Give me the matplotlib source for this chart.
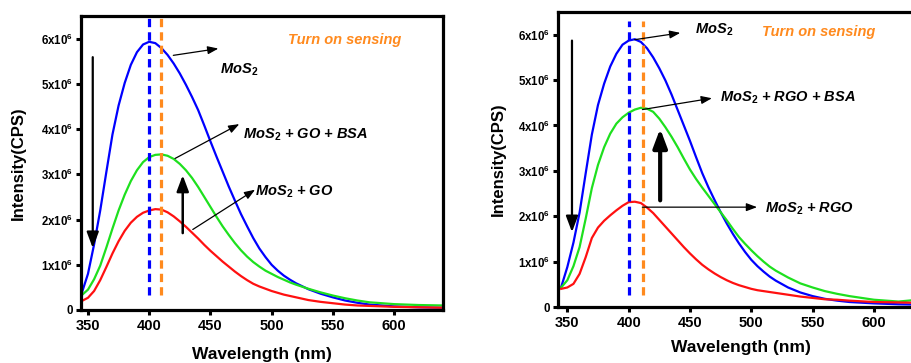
import matplotlib
matplotlib.use("Agg")
import matplotlib.pyplot as plt

plt.rcParams.update({
    "font.family": ["Liberation Sans", "DejaVu Sans"],
    "mathtext.fontset": "custom",
    "mathtext.rm": "Liberation Sans:bold",
    "mathtext.it": "Liberation Sans:italic:bold",
    "mathtext.bf": "Liberation Sans:bold",
})

# ---- wavelength grid (nm) ----
wavelength = [345, 350, 355, 360, 365, 370, 375, 380, 385, 390, 395, 400, 405, 410,
              415, 420, 425, 430, 435, 440, 445, 450, 455, 460, 465, 470, 475, 480,
              485, 490, 495, 500, 505, 510, 515, 520, 530, 540, 550, 560, 570, 580,
              600, 620, 640]

# ---- GO panel intensities (x10^6 CPS) ----
go_mos2 = [0.38, 0.80, 1.45, 2.20, 3.05, 3.88, 4.52, 5.02, 5.42, 5.70, 5.87, 5.93, 5.90, 5.79,
           5.64, 5.45, 5.23, 4.98, 4.71, 4.42, 4.08, 3.73, 3.39, 3.06, 2.73, 2.42, 2.12, 1.85,
           1.59, 1.36, 1.17, 1.00, 0.87, 0.76, 0.67, 0.59, 0.46, 0.36, 0.28, 0.21, 0.16, 0.12,
           0.08, 0.06, 0.05]
go_mos2_go_bsa = [0.33, 0.45, 0.68, 0.98, 1.38, 1.80, 2.20, 2.55, 2.85, 3.09, 3.27, 3.38, 3.43, 3.44,
                  3.41, 3.34, 3.23, 3.09, 2.92, 2.72, 2.50, 2.28, 2.06, 1.85, 1.66, 1.48, 1.32, 1.18,
                  1.06, 0.96, 0.87, 0.80, 0.73, 0.67, 0.61, 0.56, 0.47, 0.39, 0.32, 0.26, 0.21, 0.17,
                  0.13, 0.11, 0.10]
go_mos2_go = [0.20, 0.27, 0.42, 0.66, 0.95, 1.25, 1.52, 1.75, 1.93, 2.06, 2.15, 2.20, 2.23, 2.22,
              2.16, 2.07, 1.96, 1.84, 1.71, 1.58, 1.44, 1.31, 1.19, 1.07, 0.96, 0.85, 0.75, 0.66,
              0.58, 0.52, 0.47, 0.42, 0.38, 0.34, 0.31, 0.28, 0.22, 0.18, 0.15, 0.12, 0.10, 0.09,
              0.07, 0.06, 0.05]

# ---- RGO panel intensities (x10^6 CPS) ----
rgo_mos2 = [0.44, 0.88, 1.42, 2.08, 2.95, 3.80, 4.45, 4.92, 5.30, 5.58, 5.78, 5.87, 5.90, 5.84,
            5.70, 5.50, 5.26, 4.99, 4.68, 4.34, 4.00, 3.66, 3.30, 2.95, 2.64, 2.36, 2.09, 1.84,
            1.61, 1.40, 1.21, 1.04, 0.90, 0.78, 0.67, 0.58, 0.43, 0.32, 0.24, 0.18, 0.14, 0.11,
            0.08, 0.06, 0.05]
rgo_mos2_rgo_bsa = [0.43, 0.59, 0.90, 1.32, 1.95, 2.62, 3.13, 3.52, 3.82, 4.04, 4.18, 4.28, 4.35, 4.39,
                    4.37, 4.30, 4.15, 3.96, 3.75, 3.52, 3.27, 3.03, 2.82, 2.63, 2.45, 2.27, 2.09, 1.91,
                    1.72, 1.54, 1.39, 1.25, 1.12, 1.00, 0.89, 0.80, 0.65, 0.52, 0.43, 0.35, 0.29, 0.24,
                    0.16, 0.12, 0.17]
rgo_mos2_rgo = [0.40, 0.43, 0.51, 0.73, 1.10, 1.52, 1.75, 1.90, 2.02, 2.13, 2.23, 2.31, 2.32, 2.29,
                2.19, 2.07, 1.92, 1.77, 1.62, 1.47, 1.32, 1.18, 1.05, 0.93, 0.83, 0.74, 0.66, 0.59,
                0.53, 0.48, 0.44, 0.40, 0.37, 0.35, 0.33, 0.31, 0.27, 0.23, 0.20, 0.17, 0.16, 0.14,
                0.11, 0.10, 0.09]

ytick_values = [0, 1, 2, 3, 4, 5, 6]
ytick_labels = ["0"] + [f"{v}x10$^{{6}}$" for v in ytick_values[1:]]
xtick_values = [350, 400, 450, 500, 550, 600]

BLUE, GREEN, RED, ORANGE = "#0000FF", "#1EE01E", "#FF1010", "#FF8A1E"
SCALE = 1e6

fig = plt.figure(figsize=(9.12, 3.63), dpi=100)


def make_axes(rect, xlim, right_spine=True):
    ax = fig.add_axes(rect)
    ax.set_xlim(*xlim)
    ax.set_ylim(0, 6.5e6)
    for sp in ax.spines.values():
        sp.set_linewidth(2.3)
    if not right_spine:
        ax.spines["right"].set_visible(False)
    ax.set_xticks(xtick_values)
    ax.set_xticklabels([str(v) for v in xtick_values], fontsize=10.5, fontweight="bold")
    ax.set_yticks([v * SCALE for v in ytick_values])
    ax.set_yticklabels(ytick_labels, fontsize=8.3, fontweight="bold")
    ax.tick_params(axis="both", direction="out", length=3.5, width=2.2, pad=2)
    ax.tick_params(axis="x", pad=3)
    return ax


def draw_curves(ax, series):
    for vals, col in series:
        ax.plot(wavelength, [v * SCALE for v in vals], color=col, lw=1.6)


def vdash(ax, x, y0, y1, col):
    ax.plot([x, x], [y0 * SCALE, y1 * SCALE], color=col, lw=2.3,
            ls=(0, (2.6, 1.6)), solid_capstyle="butt")


def arrow(ax, start, end, lw, scale, style="-|>,head_length=0.8,head_width=0.3"):
    ax.annotate("", xy=(end[0], end[1] * SCALE), xytext=(start[0], start[1] * SCALE),
                arrowprops=dict(arrowstyle=style, lw=lw, color="black",
                                mutation_scale=scale, shrinkA=0, shrinkB=0))


def label(ax, x, y, s, **kw):
    ax.text(x, y * SCALE, s, fontsize=10.5, fontweight="bold", fontstyle="italic",
            va="center", ha="left", **kw)


# ---------------- GO panel ----------------
ax1 = make_axes([81 / 912, 1 - 310 / 363, 362 / 912, 294 / 363], (344.3, 640))
draw_curves(ax1, [(go_mos2, BLUE), (go_mos2_go_bsa, GREEN), (go_mos2_go, RED)])
vdash(ax1, 400, 0.33, 6.45, BLUE)
vdash(ax1, 410, 0.33, 6.45, ORANGE)
arrow(ax1, (353.9, 5.59), (353.9, 1.37), 1.6, 12)
arrow(ax1, (427.4, 1.70), (427.4, 2.98), 1.8, 12)
arrow(ax1, (419.7, 5.63), (456.5, 5.78), 0.9, 8)
arrow(ax1, (421.1, 3.35), (473.6, 4.11), 0.9, 8)
arrow(ax1, (435.6, 1.78), (486.5, 2.66), 0.9, 8)
label(ax1, 457.9, 5.30, r"MoS$_{2}$")
label(ax1, 476.4, 3.88, r"MoS$_{2}$ + GO + BSA")
label(ax1, 486.5, 2.62, r"MoS$_{2}$ + GO")
label(ax1, 513.4, 5.98, "Turn on sensing", color=ORANGE)
ax1.set_ylabel("Intensity(CPS)", fontsize=12, fontweight="bold", va="center")
ax1.yaxis.set_label_coords(-0.174, 0.5)
ax1.set_xlabel("Wavelength (nm)", fontsize=12.5, fontweight="bold", va="center")
ax1.xaxis.set_label_coords(0.5, -0.15)

# ---------------- RGO panel ----------------
ax2 = make_axes([558 / 912, 1 - 307 / 363, 365 / 912, 295 / 363], (342.4, 640))
draw_curves(ax2, [(rgo_mos2, BLUE), (rgo_mos2_rgo_bsa, GREEN), (rgo_mos2_rgo, RED)])
vdash(ax2, 400, 0.26, 6.31, BLUE)
vdash(ax2, 412, 0.26, 6.31, ORANGE)
arrow(ax2, (353.8, 5.87), (353.8, 1.65), 1.6, 12)
arrow(ax2, (425.7, 2.35), (425.7, 3.93), 3.0, 14)
arrow(ax2, (404.9, 5.89), (442.1, 6.04), 0.9, 8)
arrow(ax2, (411.2, 4.35), (467.9, 4.60), 0.9, 8)
arrow(ax2, (411.2, 2.20), (504.7, 2.20), 0.9, 8)
label(ax2, 454.3, 6.10, r"MoS$_{2}$")
label(ax2, 474.2, 4.60, r"MoS$_{2}$ + RGO + BSA")
label(ax2, 511.0, 2.16, r"MoS$_{2}$ + RGO")
label(ax2, 508.8, 6.06, "Turn on sensing", color=ORANGE)
ax2.set_ylabel("Intensity(CPS)", fontsize=12, fontweight="bold", va="center")
ax2.yaxis.set_label_coords(-0.164, 0.5)
ax2.set_xlabel("Wavelength (nm)", fontsize=12.5, fontweight="bold", va="center")
ax2.xaxis.set_label_coords(0.5, -0.136)

fig.savefig("out.png", dpi=100)
